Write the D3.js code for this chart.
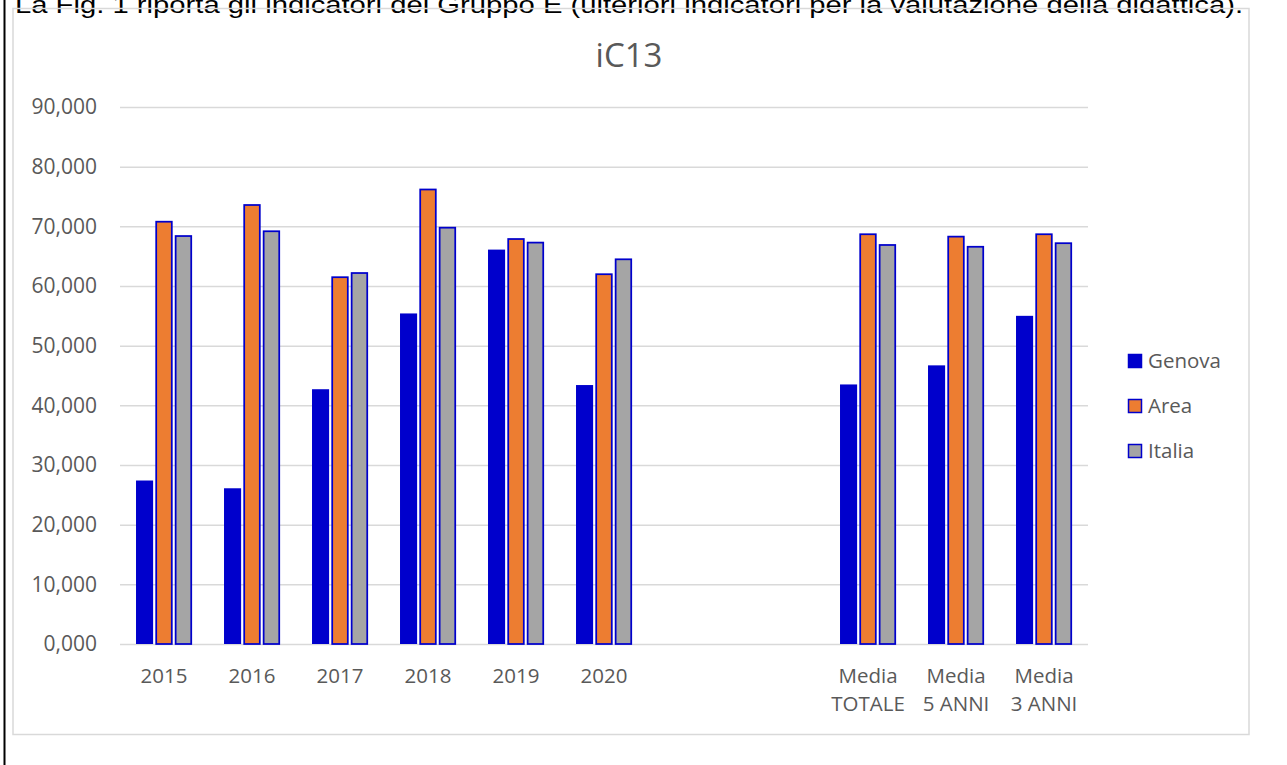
<!DOCTYPE html>
<html><head><meta charset="utf-8">
<script src="https://cdn.jsdelivr.net/npm/d3@7"></script>
<style>
html,body{margin:0;padding:0;background:#fff;overflow:hidden}
svg{display:block}
text{font-family:"Open Sans",sans-serif}
</style></head>
<body>
<svg id="c" width="1287" height="765"></svg>
<script>
const categories = ["2015","2016","2017","2018","2019","2020","","","Media\nTOTALE","Media\n5 ANNI","Media\n3 ANNI"];
const seriesNames = ["Genova","Area","Italia"];
const genova = [27.4, 26.1, 42.7, 55.4, 66.1, 43.4, null, null, 43.5, 46.7, 55.0];
const area   = [70.9, 73.7, 61.6, 76.3, 68.0, 62.1, null, null, 68.8, 68.4, 68.8];
const italia = [68.5, 69.3, 62.3, 69.9, 67.4, 64.6, null, null, 67.0, 66.7, 67.3];
const yTicks = [0,10,20,30,40,50,60,70,80,90];
const title = "iC13";
const docText = "La Fig. 1 riporta gli indicatori del Gruppo E (ulteriori indicatori per la valutazione della didattica).";

const fills = ["#0000CC","#ED7D31","#A5A5A5"];
const strokes = [null,"#0000CC","#0000CC"];
const seriesVals = [genova, area, italia];

const svg = d3.select("#c");
const L = 120, R = 1088, T = 107, B = 644;

// document text (clipped at top, as in the source page)
svg.append("text").attr("x",15).attr("y",13)
  .attr("font-size",24).attr("fill","#000").attr("textLength",1228).attr("lengthAdjust","spacingAndGlyphs")
  .style("font-family","'Liberation Sans',Arial,sans-serif").text(docText);
// black left rule
svg.append("rect").attr("x",3.5).attr("y",0).attr("width",2).attr("height",765).attr("fill","#000");
// chart frame
svg.append("rect").attr("x",13).attr("y",8.5).attr("width",1236).attr("height",726)
  .attr("fill","none").attr("stroke","#D9D9D9").attr("stroke-width",1.5);

const y = d3.scaleLinear().domain([0,90]).range([B,T]);
const x0 = d3.scaleBand().domain(d3.range(categories.length)).range([L,R]).paddingInner(0.364).paddingOuter(0.182);
const x1 = d3.scaleBand().domain(d3.range(seriesNames.length)).range([0,x0.bandwidth()]).paddingInner(0.12);

const loc = d3.formatLocale({decimal:",",thousands:".",grouping:[3],currency:["€",""]});
const fmt = loc.format(".3f");

// y axis with gridlines
const ya = svg.append("g").attr("transform",`translate(${L},0)`)
  .call(d3.axisLeft(y).tickValues(yTicks).tickSize(-(R-L)).tickFormat(fmt).tickPadding(23));
ya.select(".domain").remove();
ya.selectAll(".tick line").attr("stroke","#D9D9D9").attr("stroke-width",1.5);
ya.selectAll(".tick text").attr("fill","#595959").attr("font-size",21).style("font-family","'Open Sans',sans-serif");

// bars
seriesVals.forEach((vals,si)=>{
  svg.append("g").selectAll("rect").data(vals.map((v,i)=>({v,i})).filter(d=>d.v!=null)).join("rect")
    .attr("x",d=>x0(d.i)+x1(si)+(strokes[si]?0.75:0))
    .attr("width",x1.bandwidth()-(strokes[si]?1.5:0))
    .attr("y",d=>y(d.v)+(strokes[si]?0.75:0))
    .attr("height",d=>B-y(d.v)-(strokes[si]?0.75:0))
    .attr("fill",fills[si])
    .attr("stroke",strokes[si]||"none").attr("stroke-width",1.75);
});

// x labels
const xa = svg.append("g").attr("transform",`translate(0,${B})`)
  .call(d3.axisBottom(x0).tickSize(0).tickFormat(()=>""));
xa.select(".domain").remove();
xa.selectAll(".tick").each(function(i){
  const lines = categories[i].split("\n");
  const t = d3.select(this).select("text").text(null).attr("fill","#595959").attr("font-size",20.5)
    .style("font-family","'Open Sans',sans-serif").attr("y",0).attr("dy",null);
  lines.forEach((ln,k)=>{
    t.append("tspan").attr("x",0).attr("y",39+k*28).text(ln);
  });
});

// title
svg.append("text").attr("x",629).attr("y",67).attr("text-anchor","middle").attr("fill","#595959")
  .attr("font-size",33).text(title);

// legend
const lg = svg.append("g");
seriesNames.forEach((n,i)=>{
  const cy = 361 + i*45;
  lg.append("rect").attr("x",1128.5).attr("y",cy-6.5).attr("width",13).attr("height",13)
    .attr("fill",fills[i]).attr("stroke",strokes[i]||fills[i]).attr("stroke-width",1.5);
  lg.append("text").attr("x",1148).attr("y",cy).attr("dy","0.35em").attr("fill","#595959")
    .attr("font-size",20.5).text(n);
});
</script>
</body></html>
